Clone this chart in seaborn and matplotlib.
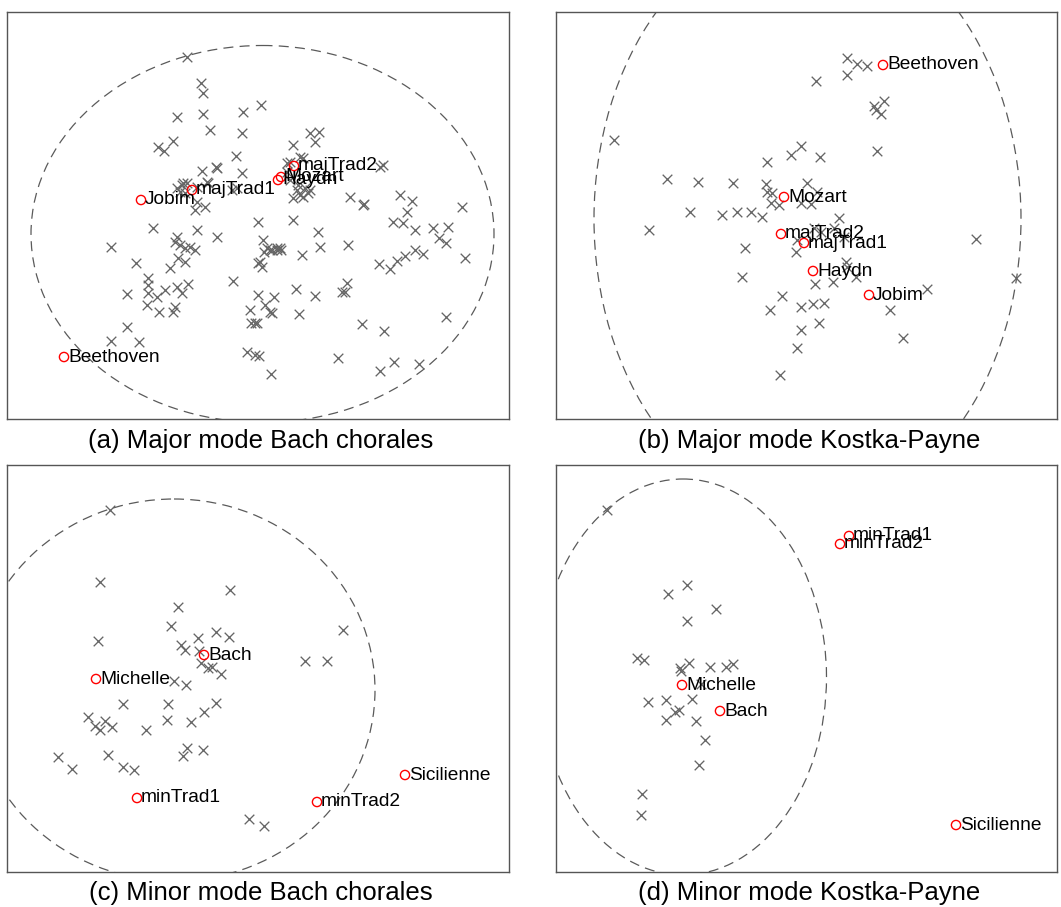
import matplotlib
matplotlib.use("Agg")
import matplotlib.pyplot as plt
from matplotlib.patches import Ellipse
import seaborn as sns
import pandas as pd

# ---------------- data (pixel-like units) ----------------
# Panel (a) Major mode Bach chorales
a_cross_x = [187, 201, 203, 177, 203, 243, 210, 242, 173, 158, 164, 236, 216, 202, 242, 261,
             177, 182, 187, 180, 185, 208, 195, 205, 197, 232,
             293, 315, 217, 183, 197, 207, 237, 287, 303, 287, 290, 297, 300, 303, 293, 310,
             350, 363, 383, 400, 407, 293, 258, 153, 197, 217, 263, 270, 277, 280, 318, 320,
             302, 348, 393, 403, 310, 319, 300, 290, 380, 364, 412, 462, 298, 305, 308,
             111, 177, 175, 180, 185, 190, 195, 178, 185, 136, 170, 148, 148, 165, 177, 188,
             182, 127, 148, 157, 147, 159, 175, 173, 233, 250, 251, 255, 127, 111, 139, 247,
             255, 258, 258, 267, 272, 277, 281, 264, 260, 262, 415, 433, 448, 439, 446, 415,
             423, 405, 397, 379, 390, 465, 296, 315, 274, 265, 270, 272, 299, 347, 342, 345,
             257, 362, 384, 446, 259, 338, 271, 380, 394, 419]
a_cross_y = [57, 83, 93, 117, 114, 112, 130, 133, 141, 147, 151, 156, 167, 171, 173, 105,
             188, 185, 183, 192, 193, 183, 210, 207, 202, 190,
             145, 142, 168, 183, 187, 182, 188, 163, 158, 172, 180, 190, 195, 197, 198, 190,
             197, 205, 165, 195, 212, 220, 222, 228, 230, 237, 240, 250, 250, 248, 232, 247,
             255, 245, 222, 223, 133, 132, 157, 162, 167, 204, 201, 207, 185, 188, 193,
             247, 237, 242, 245, 248, 247, 250, 258, 262, 263, 268, 278, 285, 290, 287, 284,
             293, 294, 293, 297, 305, 312, 307, 312, 281, 310, 323, 323, 327, 341, 342, 352,
             355, 263, 295, 248, 250, 248, 250, 252, 262, 267, 230, 228, 227, 238, 243, 250,
             254, 256, 261, 264, 269, 258, 289, 296, 297, 305, 312, 313, 314, 283, 292, 292,
             323, 324, 331, 317, 356, 358, 374, 371, 362, 364]
a_names = ["Jobim", "majTrad1", "Haydn", "Mozart", "majTrad2", "Beethoven"]
a_pt_x = [141, 192, 278, 281, 294, 64]
a_pt_y = [200, 190, 180, 177, 166, 357]
a_ellipse = (262.5, 234, 463, 377)   # centre x, centre y, width, height

# Panel (b) Major mode Kostka-Payne
b_cross_x = [847, 857, 867, 847, 816, 884, 874, 876, 881, 614, 877, 801, 791, 820, 767, 667,
             698, 733, 766, 807, 767, 772, 771, 779, 801, 811, 817, 690, 722, 737, 751, 762,
             839, 649, 814, 821, 834, 844, 797, 796, 745, 846, 847, 856, 833, 815, 742, 782,
             927, 890, 770, 801, 813, 824, 819, 801, 903, 797, 780, 976, 1016]
b_cross_y = [58, 64, 66, 75, 81, 101, 106, 110, 114, 140, 151, 146, 155, 157, 162, 179,
             182, 183, 184, 183, 192, 193, 203, 205, 203, 204, 192, 212, 215, 212, 212, 217,
             218, 230, 228, 232, 228, 237, 240, 252, 248, 262, 267, 277, 282, 284, 277, 296,
             289, 310, 310, 307, 304, 303, 323, 330, 338, 348, 375, 239, 278]
b_names = ["Beethoven", "Mozart", "majTrad2", "majTrad1", "Haydn", "Jobim"]
b_pt_x = [883, 784, 781, 804, 813, 869]
b_pt_y = [65, 197, 234, 243, 271, 295]
b_ellipse = (807.5, 219, 427, 586)

# Panel (c) Minor mode Bach chorales
c_cross_x = [110, 100, 230, 178, 171, 98, 216, 229, 198, 343, 181, 185, 199, 305, 327, 201,
             208, 212, 221, 174, 186, 123, 168, 216, 204, 88, 105, 95, 100, 112, 146, 167,
             191, 187, 183, 203, 58, 72, 108, 123, 134, 249, 264]
c_cross_y = [510, 582, 590, 607, 626, 641, 632, 637, 638, 630, 645, 650, 651, 661, 661, 663,
             668, 667, 674, 681, 685, 704, 704, 703, 712, 717, 721, 726, 730, 727, 730, 720,
             722, 748, 756, 750, 757, 769, 755, 767, 770, 819, 826]
c_names = ["Michelle", "Bach", "minTrad1", "minTrad2", "Sicilienne"]
c_pt_x = [96, 204, 137, 317, 405]
c_pt_y = [679, 655, 798, 802, 775]
c_ellipse = (174, 690, 402, 382)

# Panel (d) Minor mode Kostka-Payne
d_cross_x = [607, 687, 668, 716, 687, 637, 644, 689, 680, 710, 726, 733, 681, 648, 666, 692,
             675, 679, 666, 696, 705, 699, 642, 641, 701]
d_cross_y = [510, 585, 594, 609, 621, 658, 660, 663, 668, 667, 667, 664, 671, 702, 700, 699,
             712, 710, 720, 721, 740, 765, 794, 815, 684]
d_names = ["minTrad1", "minTrad2", "Michelle", "Bach", "Sicilienne"]
d_pt_x = [849, 840, 682, 720, 956]
d_pt_y = [536, 544, 685, 711, 825]
d_ellipse = (683, 677, 287, 396)

captions = ["(a) Major mode Bach chorales", "(b) Major mode Kostka-Payne",
            "(c) Minor mode Bach chorales", "(d) Minor mode Kostka-Payne"]

# ---------------- layout ----------------
W, H = 1061, 907
panel_boxes = [(7, 509, 12, 419), (556, 1057, 12, 419),
               (7, 509, 465, 872), (556, 1057, 465, 872)]
caption_y = [441, 441, 893, 893]

sns.set_style("white")
plt.rcParams["font.family"] = ["Liberation Sans", "DejaVu Sans"]

fig = plt.figure(figsize=(W / 100, H / 100), dpi=100)

panels = [
    (a_cross_x, a_cross_y, a_names, a_pt_x, a_pt_y, a_ellipse),
    (b_cross_x, b_cross_y, b_names, b_pt_x, b_pt_y, b_ellipse),
    (c_cross_x, c_cross_y, c_names, c_pt_x, c_pt_y, c_ellipse),
    (d_cross_x, d_cross_y, d_names, d_pt_x, d_pt_y, d_ellipse),
]

for (cx, cy, names, px, py, ell), (l, r, t, b), cap, capy in zip(panels, panel_boxes, captions, caption_y):
    ax = fig.add_axes([l / W, 1 - b / H, (r - l) / W, (b - t) / H])
    ax.set_xlim(l, r)
    ax.set_ylim(b, t)

    e = Ellipse((ell[0], ell[1]), ell[2], ell[3], fill=False, edgecolor="#5a5a5a",
                linewidth=0.9, linestyle=(0, (8, 5)), zorder=1)
    ax.add_patch(e)

    crosses = pd.DataFrame({"x": cx, "y": cy})
    sns.scatterplot(data=crosses, x="x", y="y", marker="x", color="#666666",
                    s=48, linewidth=0.95, ax=ax, zorder=2, legend=False)

    pts = pd.DataFrame({"x": px, "y": py, "name": names})
    sns.scatterplot(data=pts, x="x", y="y", marker="o", color="red", facecolor="none",
                    edgecolor="red", s=44, linewidth=1.0, ax=ax, zorder=3, legend=False)
    for _, row in pts.iterrows():
        ax.text(row["x"] + 4, row["y"], row["name"], fontsize=13.8, ha="left",
                va="center", color="black", zorder=4)

    ax.set_xticks([])
    ax.set_yticks([])
    ax.set_xlabel("")
    ax.set_ylabel("")
    for sp in ax.spines.values():
        sp.set_visible(True)
        sp.set_color("#555555")
        sp.set_linewidth(1.0)

    fig.text(((l + r) / 2 + 3) / W, 1 - capy / H, cap, fontsize=18.5,
             ha="center", va="center", color="black")

fig.savefig("out.png", dpi=100, facecolor="white")
